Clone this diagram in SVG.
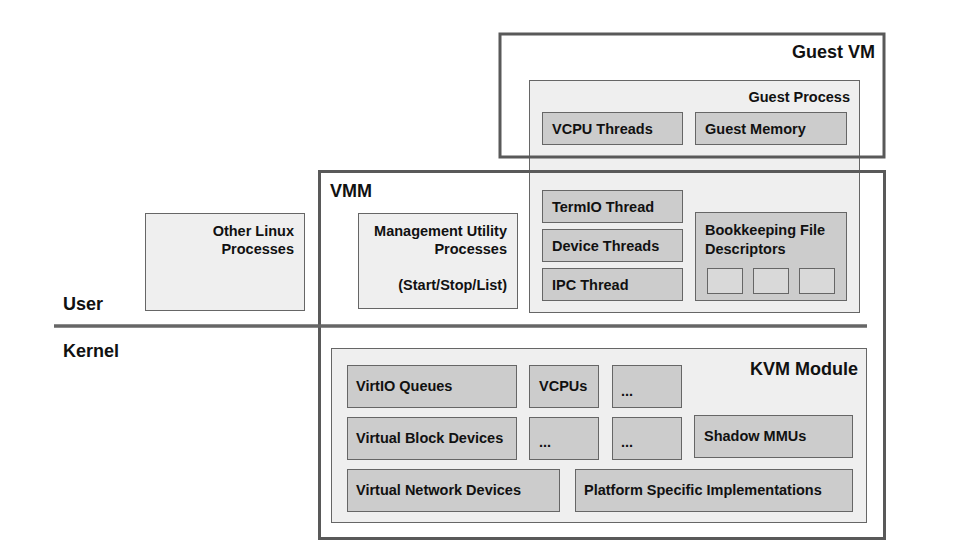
<svg xmlns="http://www.w3.org/2000/svg" width="960" height="540" viewBox="0 0 960 540">
<style>
text{font-family:"Liberation Sans",Arial,sans-serif;font-weight:bold;fill:#111111}
.big{font-size:18px}
.lbl{font-size:14.5px}
.frame{fill:none;stroke:#595959;stroke-width:3}
.light{fill:#efefef;stroke:#666666;stroke-width:1}
.box{fill:#cccccc;stroke:#666666;stroke-width:1}
.sq{fill:#d9d9d9;stroke:#666666;stroke-width:1}
.end{text-anchor:end}
</style>
<rect width="960" height="540" fill="#ffffff"/>

<g id="other-linux">
<rect class="light" x="145.5" y="213.5" width="159" height="97"/>
<text class="lbl end" x="294" y="236">Other Linux</text>
<text class="lbl end" x="294" y="254">Processes</text>
</g>

<g id="mgmt">
<rect class="light" x="358.5" y="213.5" width="159" height="95"/>
<text class="lbl end" x="507" y="236">Management Utility</text>
<text class="lbl end" x="507" y="254">Processes</text>
<text class="lbl end" x="507" y="290">(Start/Stop/List)</text>
</g>

<g id="guest-process">
<rect class="light" x="529.5" y="80.5" width="330" height="232"/>
<text class="lbl end" x="850" y="102">Guest Process</text>
</g>
<g id="vcpu-threads">
<rect class="box" x="542.5" y="112.5" width="140" height="32"/>
<text class="lbl" x="552" y="134">VCPU Threads</text>
</g>
<g id="guest-memory">
<rect class="box" x="695.5" y="112.5" width="151" height="32"/>
<text class="lbl" x="705" y="134">Guest Memory</text>
</g>
<g id="termio">
<rect class="box" x="542.5" y="190.5" width="140" height="32"/>
<text class="lbl" x="552" y="212">TermIO Thread</text>
</g>
<g id="device-threads">
<rect class="box" x="542.5" y="229.5" width="140" height="32"/>
<text class="lbl" x="552" y="251">Device Threads</text>
</g>
<g id="ipc">
<rect class="box" x="542.5" y="268.5" width="140" height="32"/>
<text class="lbl" x="552" y="290">IPC Thread</text>
</g>
<g id="bookkeeping">
<rect class="box" x="695.5" y="212.5" width="151" height="88"/>
<text class="lbl" x="705" y="235">Bookkeeping File</text>
<text class="lbl" x="705" y="254">Descriptors</text>
<rect class="sq" x="707.5" y="268.5" width="35" height="25"/>
<rect class="sq" x="753.5" y="268.5" width="35" height="25"/>
<rect class="sq" x="799.5" y="268.5" width="35" height="25"/>
</g>

<g id="kvm-module">
<rect class="light" x="331.5" y="348.5" width="535" height="174"/>
<text class="big end" x="858" y="375">KVM Module</text>
</g>
<g id="virtio"><rect class="box" x="347.5" y="365.5" width="169" height="42"/><text class="lbl" x="356" y="391">VirtIO Queues</text></g>
<g id="vcpus"><rect class="box" x="529.5" y="365.5" width="69" height="42"/><text class="lbl" x="539" y="391">VCPUs</text></g>
<g id="etc1"><rect class="box" x="612.5" y="365.5" width="69" height="42"/><text class="lbl" x="621" y="396">...</text></g>
<g id="block"><rect class="box" x="347.5" y="417.5" width="169" height="42"/><text class="lbl" x="356" y="443">Virtual Block Devices</text></g>
<g id="etc2"><rect class="box" x="529.5" y="417.5" width="69" height="42"/><text class="lbl" x="539" y="447">...</text></g>
<g id="etc3"><rect class="box" x="612.5" y="417.5" width="69" height="42"/><text class="lbl" x="621" y="447">...</text></g>
<g id="shadow"><rect class="box" x="694.5" y="415.5" width="158" height="42"/><text class="lbl" x="704" y="441">Shadow MMUs</text></g>
<g id="network"><rect class="box" x="347.5" y="469.5" width="212" height="42"/><text class="lbl" x="356" y="495">Virtual Network Devices</text></g>
<g id="platform"><rect class="box" x="575.5" y="469.5" width="277" height="42"/><text class="lbl" x="584" y="495">Platform Specific Implementations</text></g>

<g id="guest-vm">
<rect class="frame" x="500" y="34" width="384" height="123"/>
<text class="big end" x="875" y="58">Guest VM</text>
</g>
<g id="vmm">
<rect class="frame" x="319.5" y="171.5" width="565" height="367"/>
<text class="big" x="330" y="197">VMM</text>
</g>

<g id="connectors">
<line x1="54" y1="326" x2="867" y2="326" stroke="#666666" stroke-width="3.5"/>
</g>
<g id="layer-labels">
<text class="big" x="63" y="310">User</text>
<text class="big" x="63" y="357">Kernel</text>
</g>
</svg>
